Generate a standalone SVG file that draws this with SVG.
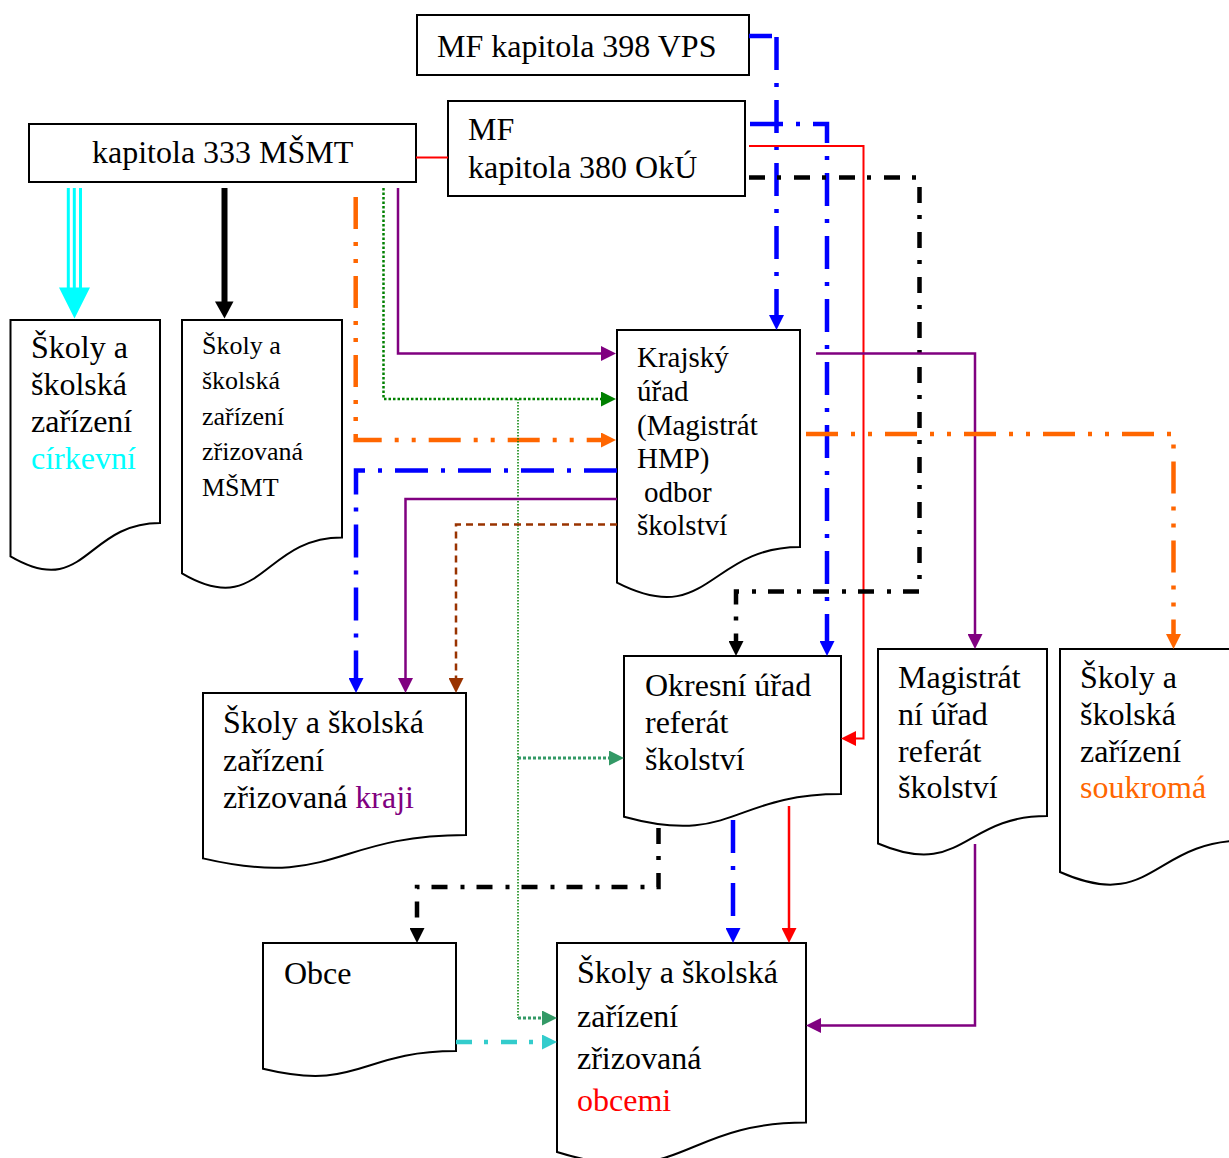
<svg xmlns="http://www.w3.org/2000/svg" width="1229" height="1158" viewBox="0 0 1229 1158">
<style>
.box{fill:#fff;stroke:#000;stroke-width:2}
.t{font-family:"Liberation Serif","Times New Roman",serif;font-size:32px;fill:#000}
.t26{font-size:26px}
.t29{font-size:29px}
.c{fill:none}
.dd{stroke-dasharray:33 13 4 13;stroke-width:4.5}
.ddd{stroke-dasharray:32 13 4 13 4 13;stroke-width:4.5}
.dk{stroke-dasharray:16 12 4 13;stroke-width:4.5}
</style>
<defs>
<marker id="aPu" viewBox="0 0 15 15" refX="0" refY="7.5" markerWidth="15" markerHeight="15" markerUnits="userSpaceOnUse" orient="auto"><path d="M0,0L15,7.5L0,15z" fill="#800080"/></marker>
<marker id="aOr" viewBox="0 0 15 15" refX="0" refY="7.5" markerWidth="15" markerHeight="15" markerUnits="userSpaceOnUse" orient="auto"><path d="M0,0L15,7.5L0,15z" fill="#FF6600"/></marker>
<marker id="aGr" viewBox="0 0 15 15" refX="0" refY="7.5" markerWidth="15" markerHeight="15" markerUnits="userSpaceOnUse" orient="auto"><path d="M0,0L15,7.5L0,15z" fill="#008000"/></marker>
<marker id="aSg" viewBox="0 0 15 15" refX="0" refY="7.5" markerWidth="15" markerHeight="15" markerUnits="userSpaceOnUse" orient="auto"><path d="M0,0L15,7.5L0,15z" fill="#339966"/></marker>
<marker id="aBl" viewBox="0 0 15 15" refX="0" refY="7.5" markerWidth="15" markerHeight="15" markerUnits="userSpaceOnUse" orient="auto"><path d="M0,0L15,7.5L0,15z" fill="#0000FF"/></marker>
<marker id="aRe" viewBox="0 0 15 15" refX="0" refY="7.5" markerWidth="15" markerHeight="15" markerUnits="userSpaceOnUse" orient="auto"><path d="M0,0L15,7.5L0,15z" fill="#FF0000"/></marker>
<marker id="aBk" viewBox="0 0 15 15" refX="0" refY="7.5" markerWidth="15" markerHeight="15" markerUnits="userSpaceOnUse" orient="auto"><path d="M0,0L15,7.5L0,15z" fill="#000"/></marker>
<marker id="aBr" viewBox="0 0 15 15" refX="0" refY="7.5" markerWidth="15" markerHeight="15" markerUnits="userSpaceOnUse" orient="auto"><path d="M0,0L15,7.5L0,15z" fill="#993300"/></marker>
<marker id="aTe" viewBox="0 0 15 15" refX="0" refY="7.5" markerWidth="15" markerHeight="15" markerUnits="userSpaceOnUse" orient="auto"><path d="M0,0L15,7.5L0,15z" fill="#33CCCC"/></marker>
</defs>

<g id="n-vps">
<rect class="box" x="417" y="15" width="332" height="60"/>
<text class="t" x="437" y="57">MF kapitola 398 VPS</text>
</g>
<g id="n-oku">
<rect class="box" x="448" y="101" width="297" height="95"/>
<text class="t" x="468" y="140">MF</text>
<text class="t" x="468" y="178">kapitola 380 OkÚ</text>
</g>
<g id="n-msmt">
<rect class="box" x="29" y="124" width="387" height="58"/>
<text class="t" x="92" y="163">kapitola 333 MŠMT</text>
</g>
<g id="n-cirkevni">
<path class="box" d="M10.5,320H160V523C85.25,523 85.25,600.2 10.5,556.4Z"/>
<text class="t" x="31"><tspan x="31" y="358">Školy a</tspan><tspan x="31" y="395">školská</tspan><tspan x="31" y="432">zařízení</tspan><tspan x="31" y="469" fill="#00FFFF">církevní</tspan></text>
</g>
<g id="n-zrizmsmt">
<path class="box" d="M182,320H342V537.5C262,537.5 262,620.2 182,573.3Z"/>
<text class="t t26"><tspan x="202" y="354">Školy a</tspan><tspan x="202" y="389">školská</tspan><tspan x="202" y="425">zařízení</tspan><tspan x="202" y="460">zřizovaná</tspan><tspan x="202" y="496">MŠMT</tspan></text>
</g>
<g id="n-krajsky">
<path class="box" d="M617,330H800V547C708.5,547 708.5,629.5 617,582.7Z"/>
<text class="t t29"><tspan x="637" y="367">Krajský</tspan><tspan x="637" y="401">úřad</tspan><tspan x="637" y="435">(Magistrát</tspan><tspan x="637" y="468">HMP)</tspan><tspan x="644" y="502">odbor</tspan><tspan x="637" y="535">školství</tspan></text>
</g>
<g id="n-kraji">
<path class="box" d="M203,693H466V835C334.5,835 334.5,889 203,858.4Z"/>
<text class="t"><tspan x="223" y="733">Školy a školská</tspan><tspan x="223" y="771">zařízení</tspan><tspan x="223" y="808">zřizovaná <tspan fill="#800080">kraji</tspan></tspan></text>
</g>
<g id="n-okresni">
<path class="box" d="M624,656H841V794C732.5,794 732.5,846.5 624,816.7Z"/>
<text class="t"><tspan x="645" y="696">Okresní úřad</tspan><tspan x="645" y="733">referát</tspan><tspan x="645" y="770">školství</tspan></text>
</g>
<g id="n-magistrat">
<path class="box" d="M878,649H1047V816C962.5,816 962.5,879.5 878,843.5Z"/>
<text class="t"><tspan x="898" y="688">Magistrát</tspan><tspan x="898" y="725">ní úřad</tspan><tspan x="898" y="762">referát</tspan><tspan x="898" y="798">školství</tspan></text>
</g>
<g id="n-soukroma">
<path class="box" d="M1060,649H1245V840.5C1152.5,840.5 1152.5,913.3 1060,872Z"/>
<text class="t"><tspan x="1080" y="688">Školy a</tspan><tspan x="1080" y="725">školská</tspan><tspan x="1080" y="762">zařízení</tspan><tspan x="1080" y="798" fill="#FF6600">soukromá</tspan></text>
</g>
<g id="n-obce">
<path class="box" d="M263,943H456V1051C359.5,1051 359.5,1092.1 263,1068.8Z"/>
<text class="t" x="284" y="984">Obce</text>
</g>
<g id="n-obcemi">
<path class="box" d="M557,943H806V1122.5C681.5,1122.5 681.5,1190.8 557,1152Z"/>
<text class="t"><tspan x="577" y="983">Školy a školská</tspan><tspan x="577" y="1027">zařízení</tspan><tspan x="577" y="1069">zřizovaná</tspan><tspan x="577" y="1111" fill="#FF0000">obcemi</tspan></text>
</g>

<g id="connectors">
<path d="M416,157.5H448" class="c" stroke="#FF0000" stroke-width="2"/>
<g stroke="#00FFFF" stroke-width="3">
<line x1="68.3" y1="188" x2="68.3" y2="289"/>
<line x1="74.3" y1="188" x2="74.3" y2="289"/>
<line x1="80.5" y1="188" x2="80.5" y2="289"/>
</g>
<polygon points="59,287.5 90,287.5 74.5,318.5" fill="#00FFFF"/>
<line x1="224.5" y1="188" x2="224.5" y2="303" stroke="#000" stroke-width="6"/>
<polygon points="215,301.5 233.5,301.5 224.5,318.5" fill="#000"/>
<path class="c ddd" stroke="#FF6600" d="M355.7,197V440H601" marker-end="url(#aOr)"/>
<path class="c" stroke="#008000" stroke-width="2.5" stroke-dasharray="2.5 2" d="M383.5,188V399H601" marker-end="url(#aGr)"/>
<path class="c" stroke="#008000" stroke-width="1.5" stroke-dasharray="1.5 1.5" d="M518,399V1018"/>
<path class="c" stroke="#339966" stroke-width="3" stroke-dasharray="3 2" d="M518,1018H542" marker-end="url(#aSg)"/>
<path class="c" stroke="#339966" stroke-width="3" stroke-dasharray="3 2" d="M518,758H609" marker-end="url(#aSg)"/>
<path class="c" stroke="#800080" stroke-width="2.5" d="M398,188V353.5H601" marker-end="url(#aPu)"/>
<path class="c dd" stroke="#0000FF" d="M749,36H772M776.5,37V315" marker-end="url(#aBl)"/>
<path class="c dd" stroke="#0000FF" d="M750,124H827V641" marker-end="url(#aBl)"/>
<path class="c" stroke="#FF0000" stroke-width="2" d="M749,146H863.5V738.5H856" marker-end="url(#aRe)"/>
<path class="c dk" stroke="#000" d="M749,177.5H919.5V591.5H736V641" marker-end="url(#aBk)"/>
<path class="c" stroke="#800080" stroke-width="2.5" d="M816,353.5H975V634" marker-end="url(#aPu)"/>
<path class="c ddd" stroke="#FF6600" d="M806,434H1173.5V634" marker-end="url(#aOr)"/>
<path class="c dd" stroke="#0000FF" d="M617,470.5H356V678" marker-end="url(#aBl)"/>
<path class="c" stroke="#800080" stroke-width="2.5" d="M617,499H405.5V678" marker-end="url(#aPu)"/>
<path class="c" stroke="#993300" stroke-width="2.5" stroke-dasharray="7 5" d="M617,524.5H456V678" marker-end="url(#aBr)"/>
<path class="c dk" stroke="#000" d="M658.5,828V887H417V928" marker-end="url(#aBk)"/>
<path class="c dd" stroke="#0000FF" d="M733,820V928" marker-end="url(#aBl)"/>
<path class="c" stroke="#FF0000" stroke-width="2.5" d="M789,806V928" marker-end="url(#aRe)"/>
<path class="c" stroke="#800080" stroke-width="2.5" d="M975,844V1025.5H821" marker-end="url(#aPu)"/>
<path class="c dk" stroke="#33CCCC" d="M456,1042H542" marker-end="url(#aTe)"/>
</g>
</svg>
